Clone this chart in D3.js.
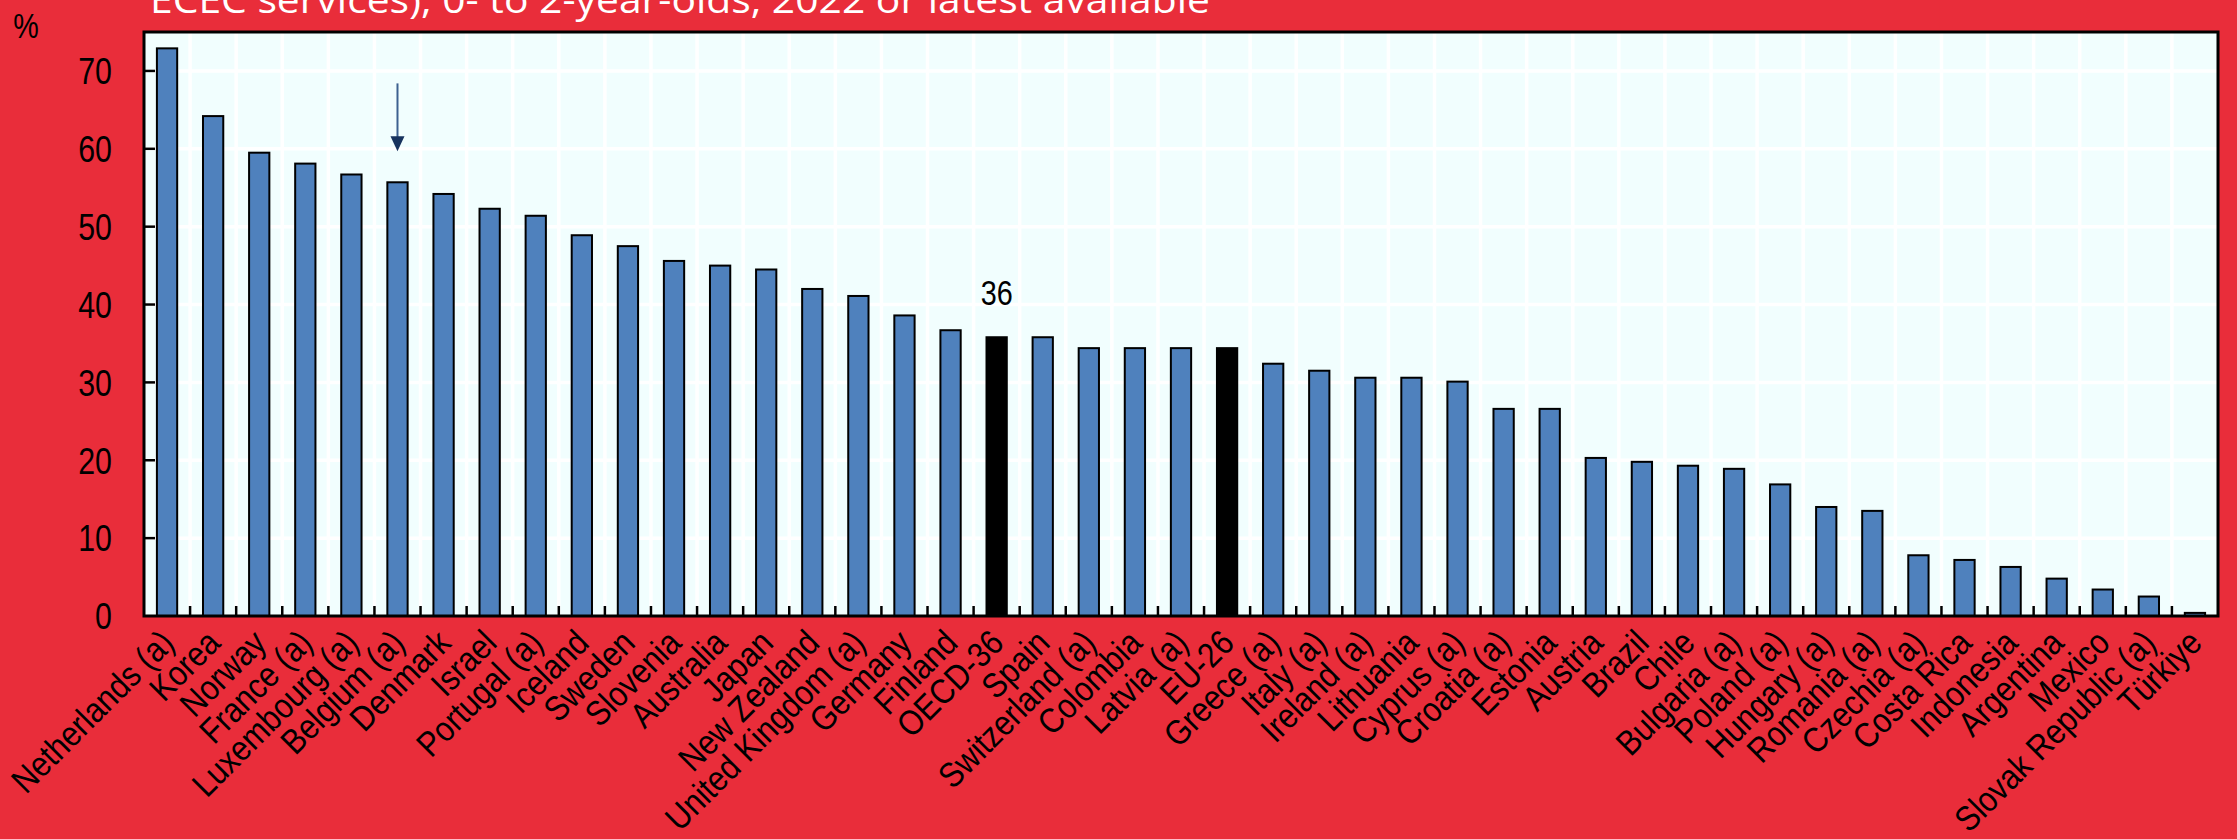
<!DOCTYPE html>
<html>
<head>
<meta charset="utf-8">
<script src="https://cdn.jsdelivr.net/npm/d3@7/dist/d3.min.js"></script>
<style>
  html, body { margin: 0; padding: 0; background: #e92d3a; }
  svg { display: block; }
</style>
</head>
<body>
<script>
// countries, in the order they are drawn
const countries = [
  "Netherlands (a)", "Korea", "Norway", "France (a)", "Luxembourg (a)", "Belgium (a)",
  "Denmark", "Israel", "Portugal (a)", "Iceland", "Sweden", "Slovenia", "Australia",
  "Japan", "New Zealand", "United Kingdom (a)", "Germany", "Finland", "OECD-36",
  "Spain", "Switzerland (a)", "Colombia", "Latvia (a)", "EU-26", "Greece (a)",
  "Italy (a)", "Ireland (a)", "Lithuania", "Cyprus (a)", "Croatia (a)", "Estonia",
  "Austria", "Brazil", "Chile", "Bulgaria (a)", "Poland (a)", "Hungary (a)",
  "Romania (a)", "Czechia (a)", "Costa Rica", "Indonesia", "Argentina", "Mexico",
  "Slovak Republic (a)", "Türkiye"
];

// enrolment rate, %
const rates = [
  72.9, 64.2, 59.5, 58.1, 56.7, 55.7,
  54.2, 52.3, 51.4, 48.9, 47.5, 45.6, 45.0,
  44.5, 42.0, 41.1, 38.6, 36.7, 35.8,
  35.8, 34.4, 34.4, 34.4, 34.4, 32.4,
  31.5, 30.6, 30.6, 30.1, 26.6, 26.6,
  20.3, 19.8, 19.3, 18.9, 16.9, 14.0,
  13.5, 7.8, 7.2, 6.3, 4.8, 3.4,
  2.5, 0.4
];

// averages drawn in black
const averages = ["OECD-36", "EU-26"];

const yTicks = [0, 10, 20, 30, 40, 50, 60, 70];
const yMax = 75;

const titleText = "ECEC services), 0- to 2-year-olds, 2022 or latest available";
const unitText = "%";

// arrow over Belgium, in value units
const arrowCountry = "Belgium (a)";
const arrowFrom = 68.4;
const arrowTo = 59.7;

const width = 2237, height = 839;
const plot = { left: 144, right: 2218, top: 32, bottom: 616 };

const data = countries.map((c, i) => ({ name: c, value: rates[i] }));

const svg = d3.select("body").append("svg")
  .attr("width", width)
  .attr("height", height);

svg.append("rect")
  .attr("width", width).attr("height", height)
  .attr("fill", "#e92d3a");

const x = d3.scaleBand()
  .domain(countries)
  .range([plot.left, plot.right])
  .paddingInner(0.56)
  .paddingOuter(0.28);

const y = d3.scaleLinear()
  .domain([0, yMax])
  .range([plot.bottom, plot.top]);

// plot background
svg.append("rect")
  .attr("x", plot.left).attr("y", plot.top)
  .attr("width", plot.right - plot.left)
  .attr("height", plot.bottom - plot.top)
  .attr("fill", "#f1fefe");

// white grid: one line per y tick and one per category boundary
const step = x.step();
const bounds = d3.range(1, countries.length).map(i => plot.left + i * step);

svg.append("g").selectAll("line")
  .data(yTicks.filter(t => t > 0))
  .join("line")
  .attr("x1", plot.left).attr("x2", plot.right)
  .attr("y1", d => y(d)).attr("y2", d => y(d))
  .attr("stroke", "#ffffff").attr("stroke-width", 3.5);

svg.append("g").selectAll("line")
  .data(bounds)
  .join("line")
  .attr("x1", d => d).attr("x2", d => d)
  .attr("y1", plot.top).attr("y2", plot.bottom)
  .attr("stroke", "#ffffff").attr("stroke-width", 3.5);

// bars
svg.append("g").selectAll("rect")
  .data(data)
  .join("rect")
  .attr("x", d => x(d.name))
  .attr("y", d => y(d.value))
  .attr("width", x.bandwidth())
  .attr("height", d => y(0) - y(d.value))
  .attr("fill", d => averages.includes(d.name) ? "#000000" : "#4f81bd")
  .attr("stroke", "#000000")
  .attr("stroke-width", 2);

// small ticks pointing into the plot
svg.append("g").selectAll("line")
  .data(bounds)
  .join("line")
  .attr("x1", d => d).attr("x2", d => d)
  .attr("y1", plot.bottom).attr("y2", plot.bottom - 10)
  .attr("stroke", "#000").attr("stroke-width", 2.5);

svg.append("g").selectAll("line")
  .data(yTicks.filter(t => t > 0))
  .join("line")
  .attr("x1", plot.left).attr("x2", plot.left + 11)
  .attr("y1", d => y(d)).attr("y2", d => y(d))
  .attr("stroke", "#000").attr("stroke-width", 2.5);

// frame
svg.append("rect")
  .attr("x", plot.left).attr("y", plot.top)
  .attr("width", plot.right - plot.left)
  .attr("height", plot.bottom - plot.top)
  .attr("fill", "none")
  .attr("stroke", "#000")
  .attr("stroke-width", 3);

// y tick labels
svg.append("g").selectAll("text")
  .data(yTicks)
  .join("text")
  .attr("transform", d => `translate(112,${y(d)}) scale(0.82,1)`)
  .attr("text-anchor", "end")
  .attr("dy", "0.36em")
  .attr("font-family", "Liberation Sans, Arial, sans-serif")
  .attr("font-size", 37)
  .attr("fill", "#000")
  .text(d => d);

svg.append("text")
  .attr("transform", "translate(26,38) scale(0.82,1)")
  .attr("text-anchor", "middle")
  .attr("font-family", "Liberation Sans, Arial, sans-serif")
  .attr("font-size", 35)
  .text(unitText);

// category labels, rotated
svg.append("g").selectAll("text")
  .data(countries)
  .join("text")
  .attr("transform", d => `translate(${x(d) + x.bandwidth() / 2 + 9},${plot.bottom + 29}) rotate(-45) scale(0.88,1)`)
  .attr("text-anchor", "end")
  .attr("font-family", "Liberation Sans, Arial, sans-serif")
  .attr("font-size", 35)
  .attr("fill", "#000")
  .text(d => d);

// value label over OECD average
const oecd = data.find(d => d.name === "OECD-36");
svg.append("text")
  .attr("transform", `translate(${x(oecd.name) + x.bandwidth() / 2},${y(oecd.value) - 32}) scale(0.8,1)`)
  .attr("text-anchor", "middle")
  .attr("font-family", "Liberation Sans, Arial, sans-serif")
  .attr("font-size", 36)
  .text(Math.round(oecd.value));

// arrow over Belgium
const ax = x(arrowCountry) + x.bandwidth() / 2;
svg.append("line")
  .attr("x1", ax).attr("x2", ax)
  .attr("y1", y(arrowFrom)).attr("y2", y(arrowTo) - 10)
  .attr("stroke", "#3d6190").attr("stroke-width", 2);
svg.append("path")
  .attr("d", `M${ax - 7},${y(arrowTo) - 15} L${ax + 7},${y(arrowTo) - 15} L${ax},${y(arrowTo)} Z`)
  .attr("fill", "#17335e");

// title, cut at the top like the source
svg.append("text")
  .attr("x", 150).attr("y", 13)
  .attr("font-family", "Open Sans, DejaVu Sans Condensed, sans-serif")
  .attr("font-size", 36)
  .attr("fill", "#ffffff")
  .attr("textLength", 1060)
  .attr("lengthAdjust", "spacingAndGlyphs")
  .text(titleText);
</script>
</body>
</html>
